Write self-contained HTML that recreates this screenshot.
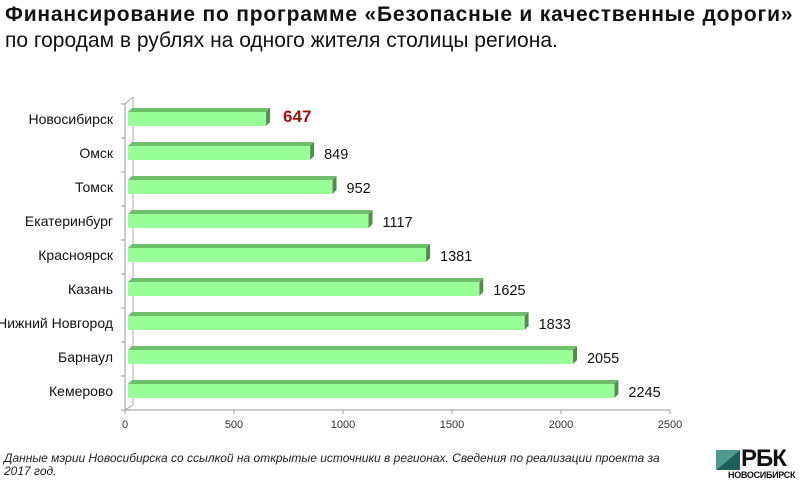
<!DOCTYPE html>
<html><head><meta charset="utf-8">
<style>
body{margin:0;width:810px;height:485px;background:#fff;overflow:hidden;font-family:"Liberation Sans",sans-serif;position:relative}
.t{position:absolute;left:5px;top:3px;font-size:21px;font-weight:bold;color:#111;white-space:nowrap;letter-spacing:0.8px}
.s{position:absolute;left:5px;top:29px;font-size:21px;color:#111;white-space:nowrap}
.f{position:absolute;left:4px;top:452px;font-size:12px;font-style:italic;color:#222;width:665px;line-height:13px}
</style></head><body>
<div class="t">Финансирование по программе «Безопасные и качественные дороги»</div>
<div class="s">по городам в рублях на одного жителя столицы региона.</div>
<svg id="c" width="810" height="485" style="position:absolute;left:0;top:0"></svg>
<div class="f">Данные мэрии Новосибирска со ссылкой на открытые источники в регионах. Сведения по реализации проекта за 2017 год.</div>
<div style="position:absolute;left:716px;top:448px;width:90px;height:34px">
<svg width="24" height="20" style="position:absolute;left:0;top:2px"><polygon points="0,0 24,0 0,20" fill="#4f9a8f"/><polygon points="24,0 24,20 0,20" fill="#1f5f5a"/></svg>
<div style="position:absolute;left:25px;top:-3px;font-size:24px;font-weight:bold;color:#111;letter-spacing:-1px">РБК</div>
<div style="position:absolute;left:12px;top:22px;font-size:9px;font-weight:bold;color:#111;letter-spacing:-0.3px">НОВОСИБИРСК</div>
</div>
<script>
const cities=["Новосибирск","Омск","Томск","Екатеринбург","Красноярск","Казань","Нижний Новгород","Барнаул","Кемерово"];
const values=[647,849,952,1117,1381,1625,1833,2055,2245];
const ticks=[0,500,1000,1500,2000,2500];
const svg=document.getElementById('c');const NS='http://www.w3.org/2000/svg';
const x0=125,x1=670,yTop=104,yBot=410,dx=5,dy=5;
const xs=v=>x0+(v/2500)*(x1-x0);
const step=(yBot-yTop)/cities.length;
const yc=i=>yTop+step*(i+0.5)-2;
function mk(t,a,p){const e=document.createElementNS(NS,t);for(const k in a)e.setAttribute(k,a[k]);(p||svg).appendChild(e);return e;}
let e;
e=mk('line',{x1:x0+dx+3,y1:yTop-dy-2,x2:x0+dx+3,y2:yBot-dy,stroke:'#aaa'});

mk('line',{x1:x0,y1:yTop,x2:x0+dx+3,y2:yTop-dy-2,stroke:'#aaa'});
mk('line',{x1:x0,y1:yBot,x2:x0+dx+3,y2:yBot-dy,stroke:'#aaa'});
e=mk('line',{x1:x0,y1:yTop,x2:x0,y2:yBot,stroke:'#999'});

e=mk('line',{x1:x0,y1:yBot,x2:x1,y2:yBot,stroke:'#999'});

for(let i=0;i<=cities.length;i++){mk('line',{x1:x0-4,y1:yTop+step*i,x2:x0,y2:yTop+step*i,stroke:'#999'});}
ticks.forEach(t=>{const x=xs(t);mk('line',{x1:x,y1:yBot,x2:x,y2:yBot+4,stroke:'#999'});
e=mk('text',{x:x,y:yBot+18,'font-size':'11','text-anchor':'middle',fill:'#333','font-family':'Liberation Sans'});e.textContent=t;
});
cities.forEach((c,i)=>{
const y=yc(i),h=14,xe=xs(values[i]),xb=x0+3;
const g=mk('g',{});

mk('polygon',{points:`${xb},${y-h/2} ${xb+4},${y-h/2-4} ${xe+4},${y-h/2-4} ${xe},${y-h/2}`,fill:'#6fbf6a'},g);
mk('polygon',{points:`${xe},${y-h/2} ${xe+4},${y-h/2-4} ${xe+4},${y+h/2-4} ${xe},${y+h/2}`,fill:'#4f8f4a'},g);
mk('rect',{x:xb,y:y-h/2,width:xe-xb,height:h,fill:'#99ff99'},g);
e=mk('text',{x:x0-12,y:y+5,'font-size':'14','text-anchor':'end',fill:'#111','font-family':'Liberation Sans'});e.textContent=c;

const first=i===0;
e=mk('text',{x:xe+(first?17:14),y:y+(first?3:6),'font-size':first?'17':'14.5','font-weight':first?'bold':'normal',fill:first?'#a01010':'#111','font-family':'Liberation Sans'});e.textContent=values[i];

});
</script>
</body></html>
